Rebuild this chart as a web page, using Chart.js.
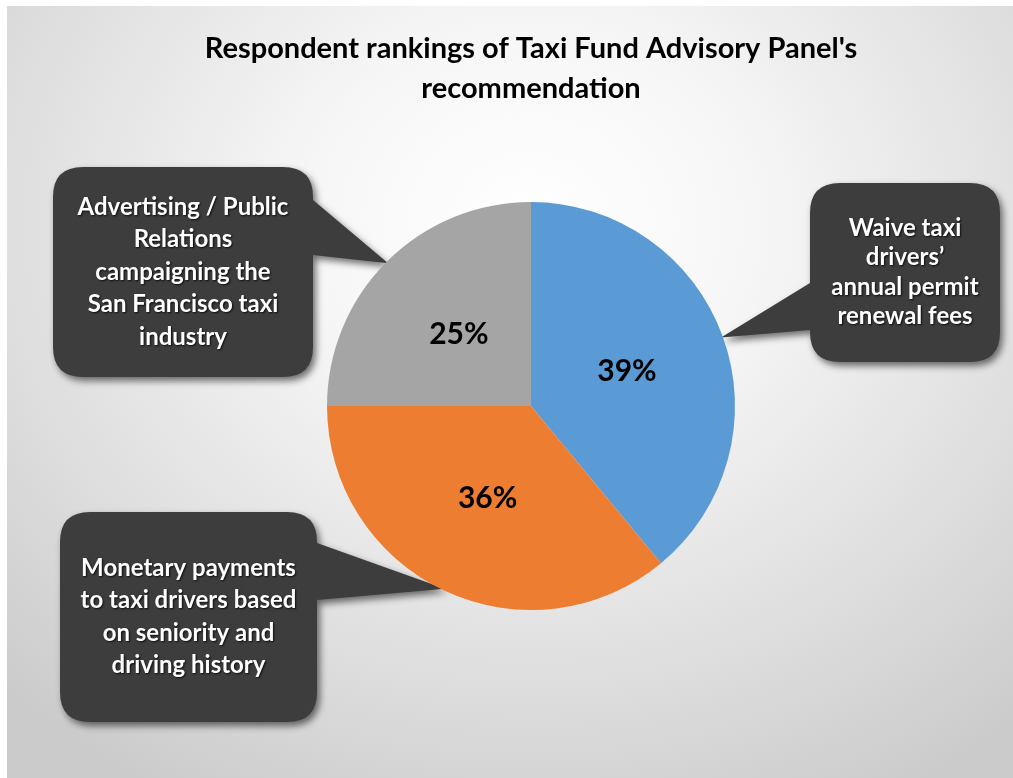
<!DOCTYPE html>
<html>
<head>
<meta charset="utf-8">
<script src="https://cdn.jsdelivr.net/npm/chart.js@4.4.1/dist/chart.umd.min.js"></script>
<style>
	html, body { margin: 0; padding: 0; background: #ffffff; }
	#wrap {
		position: absolute; left: 7px; top: 6px; width: 1006px; height: 772px;
		background: radial-gradient(ellipse 75% 85% at 52% 28%, #ffffff 0%, #f6f6f6 30%, #dedede 70%, #cbcbcb 100%);
	}
	#pieChart { position: absolute; left: -7px; top: -6px; }
</style>
</head>
<body>
<div id="wrap"><canvas id="pieChart" width="1013" height="778"></canvas></div>
<script>
const titleLines = ["Respondent rankings of Taxi Fund Advisory Panel's", 'recommendation'];
const categories = [
	'Waive taxi drivers’ annual permit renewal fees',
	'Monetary payments to taxi drivers based on seniority and driving history',
	'Advertising / Public Relations campaigning the San Francisco taxi industry'
];
const shares = [39, 36, 25];
const sliceColors = ['#5b9bd5', '#ed7d31', '#a5a5a5'];
const calloutText = [
	['Waive taxi', 'drivers’', 'annual permit', 'renewal fees'],
	['Monetary payments', 'to taxi drivers based', 'on seniority and', 'driving history'],
	['Advertising / Public', 'Relations', 'campaigning the', 'San Francisco taxi', 'industry']
];

// box layout for each callout (x, y, w, h) and where the pointer leaves the box
const calloutBoxes = [
	{ x: 810, y: 183, w: 190, h: 179, side: 'left', b0: 283, b1: 330 },
	{ x: 60, y: 512, w: 257, h: 210, side: 'right', b0: 543, b1: 600 },
	{ x: 53, y: 167, w: 260, h: 210, side: 'right', b0: 200, b1: 255 }
];

const FONT = 'Lato, "Open Sans", sans-serif';

function calloutPath(ctx, b, tip) {
	const r = 30;
	const x0 = b.x, y0 = b.y, x1 = b.x + b.w, y1 = b.y + b.h;
	ctx.beginPath();
	ctx.moveTo(x0 + r, y0);
	ctx.lineTo(x1 - r, y0);
	ctx.quadraticCurveTo(x1, y0, x1, y0 + r);
	if (b.side === 'right') {
		ctx.lineTo(x1, b.b0);
		ctx.lineTo(tip.x, tip.y);
		ctx.lineTo(x1, b.b1);
	}
	ctx.lineTo(x1, y1 - r);
	ctx.quadraticCurveTo(x1, y1, x1 - r, y1);
	ctx.lineTo(x0 + r, y1);
	ctx.quadraticCurveTo(x0, y1, x0, y1 - r);
	if (b.side === 'left') {
		ctx.lineTo(x0, b.b1);
		ctx.lineTo(tip.x, tip.y);
		ctx.lineTo(x0, b.b0);
	}
	ctx.lineTo(x0, y0 + r);
	ctx.quadraticCurveTo(x0, y0, x0 + r, y0);
	ctx.closePath();
}

const calloutPlugin = {
	id: 'callouts',
	beforeDatasetsDraw(chart) {
		const ctx = chart.ctx;
		const arcs = chart.getDatasetMeta(0).data;
		arcs.forEach((arc, i) => {
			const p = arc.getProps(['x', 'y', 'startAngle', 'endAngle', 'outerRadius'], true);
			const mid = (p.startAngle + p.endAngle) / 2;
			const tip = { x: p.x + Math.cos(mid) * (p.outerRadius - 2), y: p.y + Math.sin(mid) * (p.outerRadius - 2) };
			const b = calloutBoxes[i];
			ctx.save();
			ctx.shadowColor = 'rgba(0,0,0,0.55)';
			ctx.shadowBlur = 7;
			ctx.shadowOffsetX = 3;
			ctx.shadowOffsetY = 4;
			ctx.fillStyle = '#3d3d3d';
			calloutPath(ctx, b, tip);
			ctx.fill();
			ctx.restore();

			const lines = calloutText[i];
			const lh = b.h > 200 ? 32.5 : 29.5;
			const cx = b.x + b.w / 2;
			const cy = b.y + b.h / 2;
			ctx.save();
			ctx.font = 'bold 24px ' + FONT;
			ctx.fillStyle = '#ffffff';
			ctx.textAlign = 'center';
			ctx.textBaseline = 'middle';
			ctx.shadowColor = 'rgba(0,0,0,0.8)';
			ctx.shadowBlur = 2;
			ctx.shadowOffsetX = 1;
			ctx.shadowOffsetY = 1;
			lines.forEach((t, k) => {
				ctx.fillText(t, cx, cy + (k - (lines.length - 1) / 2) * lh);
			});
			ctx.restore();
		});
	},
	afterDatasetsDraw(chart) {
		const ctx = chart.ctx;
		const arcs = chart.getDatasetMeta(0).data;
		ctx.save();
		ctx.font = 'bold 30px ' + FONT;
		ctx.fillStyle = '#000000';
		ctx.textAlign = 'center';
		ctx.textBaseline = 'middle';
		arcs.forEach((arc, i) => {
			const pos = arc.tooltipPosition();
			ctx.fillText(shares[i] + '%', pos.x, pos.y);
		});
		ctx.restore();
	}
};

const ctx = document.getElementById('pieChart').getContext('2d');
new Chart(ctx, {
	type: 'pie',
	data: {
		labels: categories,
		datasets: [{
			data: shares,
			backgroundColor: sliceColors,
			borderWidth: 0
		}]
	},
	options: {
		responsive: false,
		maintainAspectRatio: false,
		animation: false,
		layout: {
			padding: { left: 49, right: 0, top: 0, bottom: 168 }
		},
		plugins: {
			legend: { display: false },
			tooltip: { enabled: false },
			title: {
				display: true,
				text: titleLines,
				color: '#000000',
				font: { family: FONT, size: 29, weight: 'bold', lineHeight: 1.38 },
				padding: { top: 29, bottom: 93 }
			}
		}
	},
	plugins: [calloutPlugin]
});
</script>
</body>
</html>
